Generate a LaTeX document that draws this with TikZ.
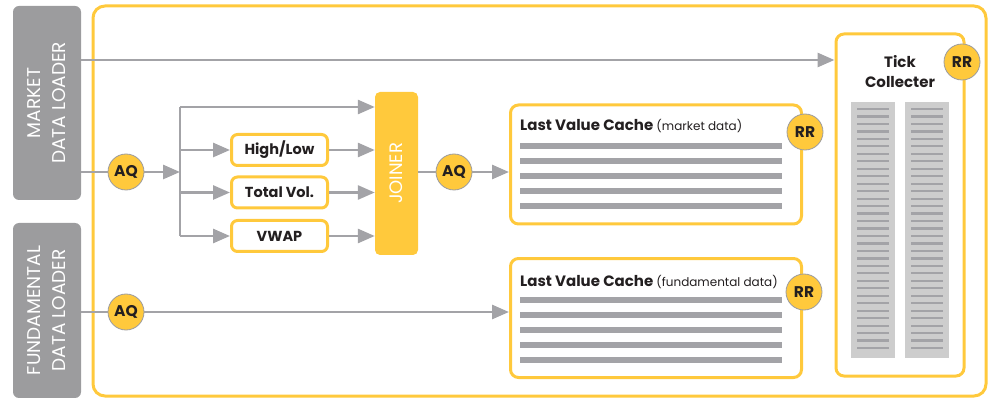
\documentclass[tikz,border=0pt]{standalone}
\usepackage{fontspec}
\setmainfont{Poppins}
\usetikzlibrary{arrows.meta,positioning}

\definecolor{kyellow}{HTML}{FFC93C}
\definecolor{kloader}{HTML}{9C9C9E}
\definecolor{kline}{HTML}{A3A3A7}
\definecolor{kcolumn}{HTML}{CDCDCD}
\definecolor{ktext}{HTML}{231F20}

\tikzset{
  loader/.style={fill=kloader, rounded corners=6pt, rotate=90, text=white, align=center,
    inner sep=0pt, font=\fontsize{18.5}{25}\selectfont},
  queue/.style={circle, fill=kyellow, draw=kloader, line width=0.8pt, minimum size=36pt,
    inner sep=0pt, text=ktext, font=\bfseries\fontsize{15.5}{15.5}\selectfont},
  calcbox/.style={draw=kyellow, line width=3pt, rounded corners=6pt, fill=white,
    minimum width=96pt, minimum height=31pt, inner sep=0pt, text=ktext,
    font=\bfseries\fontsize{14.5}{14.5}\selectfont},
  cache/.style={draw=kyellow, line width=3pt, rounded corners=8pt, fill=white,
    minimum width=291pt, minimum height=119pt},
  conn/.style={draw=kline, line width=2.8pt, -{Triangle[length=17pt,width=14pt]}},
  link/.style={draw=kline, line width=2.8pt},
  bar/.style={fill=kline},
}

\begin{document}
\begin{tikzpicture}[x=1pt,y=-1pt]
    \useasboundingbox (0,0) rectangle (988,398);

    % LOADERS
    \node[loader, minimum width=194, minimum height=68] (mkt) at (47,103) {MARKET\\DATA LOADER};
    \node[loader, minimum width=175, minimum height=68] (fnd) at (47,310.5) {FUNDAMENTAL\\DATA LOADER};

    % Frame
    \draw[kyellow, line width=3pt, rounded corners=12pt] (93,6) rectangle (986,396);

    % Calculations
    \node[calcbox] (hl) at (279.5,150) {High/Low};
    \node[calcbox] (tv) at (279.5,192.5) {Total Vol.};
    \node[calcbox] (vw) at (279.5,236) {VWAP};
    \node[fill=kyellow, rounded corners=5pt, rotate=90, minimum width=163, minimum height=43,
      inner sep=0pt, text=white, font=\fontsize{18}{18}\selectfont] (join) at (396.5,173.5) {JOINER};

    % Caches
    \node[cache] (lvcm) at (656,164.5) {};
    \node[anchor=base west, text=ktext, inner sep=0pt] (lvcmtitle) at (520,131)
      {\fontsize{15}{15}\selectfont\bfseries Last Value Cache \fontsize{12}{12}\selectfont\mdseries(market data)};
    \foreach \y in {143,158,173,188,203}
      \fill[bar] (520,\y) rectangle (782,\y+6);

    \node[cache] (lvcf) at (656,318) {};
    \node[anchor=base west, text=ktext, inner sep=0pt] (lvcftitle) at (520,286.5)
      {\fontsize{15}{15}\selectfont\bfseries Last Value Cache \fontsize{12}{12}\selectfont\mdseries(fundamental data)};
    \foreach \y in {297,312,327,342,357}
      \fill[bar] (520,\y) rectangle (782,\y+6);

    % Tick collecter
    \node[draw=kyellow, line width=3pt, rounded corners=8pt, minimum width=128, minimum height=342,
      inner sep=0pt] (tick) at (900,205) {};
    \node[align=center, text=ktext, inner sep=0pt, font=\bfseries\fontsize{15}{20}\selectfont,
      below=23pt of tick.north] (ticktitle) {Tick\\Collecter};
    \fill[kcolumn] (851,102) rectangle (895,358);
    \fill[kcolumn] (905,102) rectangle (949,358);
    \foreach \i in {0,...,32} {
      \draw[kline, line width=2.2pt] (857,109+7.47*\i) -- (889,109+7.47*\i);
      \draw[kline, line width=2.2pt] (911,109+7.47*\i) -- (943,109+7.47*\i);
    }

    % Queues
    \node[queue] (aqm) at (126,172) {AQ};
    \node[queue] (aqj) at (454,172) {AQ};
    \node[queue] (aqf) at (126,312) {AQ};
    \node[queue] (rrm) at (805,132) {RR};
    \node[queue] (rrf) at (804,292) {RR};
    \node[queue] (rrt) at (962,62) {RR};

    % Connectors
    \coordinate (mktout) at (81,60);
    \draw[conn] (mktout) -- (mktout -| tick.west);
    \coordinate (split) at (180,172);
    \coordinate (splittop) at (180,107);
    \coordinate (splitbot) at (180,236);
    \draw[link] (aqm -| mkt.south) -- (aqm);
    \draw[conn] (aqm) -- (split);
    \draw[link] (splittop) -- (splitbot);
    \draw[conn] (splittop) -- (splittop -| join.north);
    \draw[conn] (split |- hl) -- (hl);
    \draw[conn] (split |- tv) -- (tv);
    \draw[conn] (split |- vw) -- (vw);
    \draw[conn] (hl) -- (hl -| join.north);
    \draw[conn] (tv) -- (tv -| join.north);
    \draw[conn] (vw) -- (vw -| join.north);
    \draw[link] (join.south |- aqj) -- (aqj);
    \draw[conn] (aqj) -- (aqj -| lvcm.west);
    \draw[link] (aqf -| fnd.south) -- (aqf);
    \draw[conn] (aqf) -- (aqf -| lvcf.west);
\end{tikzpicture}
\end{document}
